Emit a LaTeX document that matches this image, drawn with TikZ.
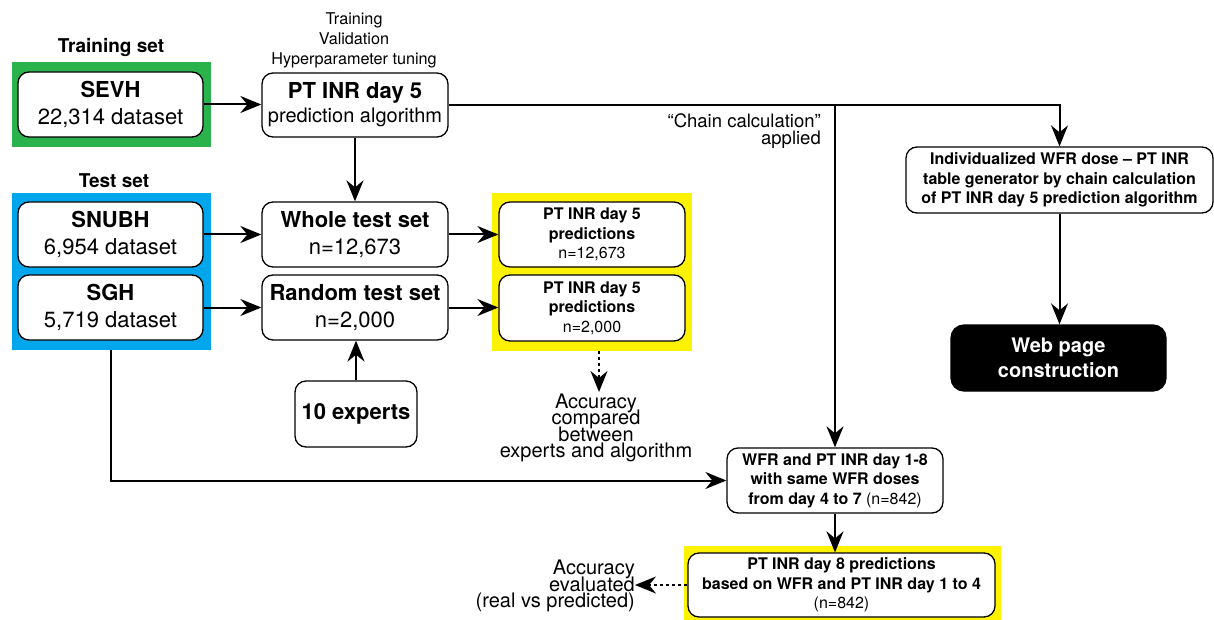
\documentclass[tikz,border=0pt]{standalone}
\usepackage{fontspec}
\setmainfont{TeX Gyre Heros}
\usetikzlibrary{arrows.meta}
\definecolor{gboxc}{RGB}{43,178,74}
\definecolor{bboxc}{RGB}{0,166,235}
\definecolor{yboxc}{RGB}{255,242,0}
\newcommand{\mytightlines}{\lineskiplimit=-30pt\relax\lineskip=0pt\relax}
\begin{document}
\begin{tikzpicture}[x=1pt,y=-1pt,
  box/.style={draw=black, line width=1.3pt, rounded corners=11pt, fill=white, inner sep=0pt, align=center},
  bgbox/.style={draw=none, inner sep=0pt},
  conn/.style={line width=2pt, -{Stealth[length=21pt,width=17pt,inset=7pt]}},
  dconn/.style={conn, dash pattern=on 3pt off 3pt},
  bigfont/.style={font=\fontsize{22}{27}\selectfont},
  smallfont/.style={font=\fontsize{16}{19.5}\selectfont},
  lblfont/.style={font=\fontsize{19}{20}\selectfont\bfseries},
  notefont/.style={font=\fontsize{20}{16.5}\selectfont\mytightlines, inner sep=0pt},
]
\useasboundingbox (0,0) rectangle (1214,620);

% coloured backgrounds
\node[bgbox, fill=gboxc, minimum width=199pt, minimum height=85pt] (trainbox) at (111.5,104.5) {};
\node[bgbox, fill=bboxc, minimum width=199pt, minimum height=157pt] (testbox) at (111.5,271.5) {};
\node[bgbox, fill=yboxc, minimum width=200pt, minimum height=158pt] (predbox) at (592,272) {};
\node[bgbox, fill=yboxc, minimum width=317pt, minimum height=75pt] (d8box) at (842.5,583.5) {};

% labels
\node[lblfont] (trainlbl) at (111,47) {Training set};
\node[lblfont] (testlbl) at (114,181) {Test set};
\node[font=\fontsize{16.2}{20}\selectfont, align=center, inner sep=0pt] (tvh) at (354,40) {Training\\Validation\\Hyperparameter tuning};

% left column
\node[box, bigfont, minimum width=185pt, minimum height=65pt] (sevh) at (110.5,104.5) {{\bfseries SEVH}\\22,314 dataset};
\node[box, bigfont, minimum width=185pt, minimum height=65pt] (snubh) at (110.5,234.5) {{\bfseries SNUBH}\\6,954 dataset};
\node[box, bigfont, minimum width=185pt, minimum height=65pt] (sgh) at (110.5,307.5) {{\bfseries SGH}\\5,719 dataset};

% second column
\node[box, bigfont, minimum width=186pt, minimum height=64pt] (alg) at (355,105) {{\bfseries PT INR day 5}\\[-3pt]{\fontsize{20}{24}\selectfont prediction algorithm}};
\node[box, bigfont, minimum width=186pt, minimum height=65pt] (whole) at (355,234.5) {{\bfseries Whole test set}\\n=12,673};
\node[box, bigfont, minimum width=186pt, minimum height=65pt] (random) at (355,307.5) {{\bfseries Random test set}\\n=2,000};
\node[box, bigfont, minimum width=122pt, minimum height=66pt] (experts) at (356,414) {\bfseries 10 experts};

% predictions
\node[box, smallfont, minimum width=186pt, minimum height=65pt] (pred1) at (592,234.5) {{\bfseries PT INR day 5}\\{\bfseries predictions}\\n=12,673};
\node[box, smallfont, minimum width=186pt, minimum height=66pt] (pred2) at (592,308) {{\bfseries PT INR day 5}\\{\bfseries predictions}\\n=2,000};

% right part
\node[box, smallfont, minimum width=307pt, minimum height=66pt] (indiv) at (1059.5,180) {{\bfseries Individualized WFR dose -- PT INR}\\{\bfseries table generator by chain calculation}\\{\bfseries of PT INR day 5 prediction algorithm}};
\node[box, fill=black, text=white, rounded corners=13pt, font=\fontsize{20}{25}\selectfont\bfseries, minimum width=215pt, minimum height=66pt] (web) at (1058.5,358) {Web page\\construction};
\node[box, smallfont, minimum width=216pt, minimum height=65pt] (wfr) at (835,480.5) {{\bfseries WFR and PT INR day 1-8}\\{\bfseries with same WFR doses}\\{\bfseries from day 4 to 7} (n=842)};
\node[box, smallfont, minimum width=307pt, minimum height=64pt] (bottom) at (841.5,585) {{\bfseries PT INR day 8 predictions}\\{\bfseries based on WFR and PT INR day 1 to 4}\\(n=842)};

% notes
\node[font=\fontsize{18.5}{16.5}\selectfont\mytightlines, align=right, inner sep=0pt, anchor=east] (chain) at (821,131) {“Chain calculation”\\applied};
\node[notefont, align=center] (acc1) at (596,428) {Accuracy\\compared\\between\\experts and algorithm};
\node[notefont, align=right, anchor=east] (acc2) at (635,586) {Accuracy\\evaluated\\(real vs predicted)};

% connectors
\coordinate (br) at (835,105);
\coordinate (d1s) at (599,351);
\coordinate (d1e) at (599,392);
\draw[conn] (sevh.east) -- (sevh.east -| alg.west);
\draw[conn] (alg) -- (whole);
\draw[conn] (snubh) -- (whole);
\draw[conn] (sgh) -- (random);
\draw[conn] (whole) -- (pred1);
\draw[conn] (random.east) -- (random.east -| pred2.west);
\draw[conn] (experts.north) -- (experts.north |- random.south);
\draw[conn] (alg.east) -| (indiv.north);
\draw[conn] (br) -- (wfr.north);
\draw[conn] (indiv.south) -- (indiv.south |- web.north);
\draw[conn] (sgh.south |- testbox.south) |- (wfr.west);
\draw[conn] (wfr.south) -- (wfr.south |- bottom.north);
\draw[dconn] (d1s) -- (d1e);
\draw[dconn] (bottom.west) -- (bottom.west -| acc2.east);
\end{tikzpicture}
\end{document}
